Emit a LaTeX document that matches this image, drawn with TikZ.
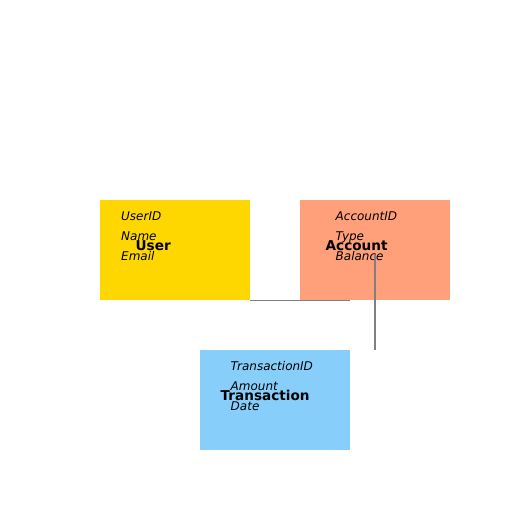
\documentclass[tikz,border=0pt]{standalone}
\usepackage{fontspec}
\setmainfont{DejaVu Sans}
\definecolor{usercol}{HTML}{FFD700}
\definecolor{acccol}{HTML}{FFA07A}
\definecolor{transcol}{HTML}{87CEFA}
\definecolor{linecol}{HTML}{808080}
\begin{document}
\begin{tikzpicture}[x=1pt,y=-1pt,
  entity/.style={draw=none,minimum width=150pt,minimum height=100pt,inner sep=0pt,anchor=north west},
  title/.style={anchor=base west,inner sep=0pt,font=\fontsize{13.6}{16}\selectfont\bfseries},
  attr/.style={anchor=base west,inner sep=0pt,font=\fontsize{12}{14}\selectfont\itshape},
  link/.style={draw=linecol,line width=1.5pt}]
\useasboundingbox (0,0) rectangle (512,512);
\node[entity,fill=usercol] (user) at (100,200) {};
\node[entity,fill=acccol] (account) at (300,200) {};
\node[entity,fill=transcol] (trans) at (200,350) {};
% User
\node[attr] (u1) at (121,220) {UserID};
\node[attr] (u2) at (121,240) {Name};
\node[attr] (u3) at (121,260) {Email};
\node[title] (ut) at (135.5,250) {User};
% Account
\node[attr] (a1) at (335.5,220) {AccountID};
\node[attr] (a2) at (335.5,240) {Type};
\node[attr] (a3) at (335.5,260) {Balance};
\node[title] (at) at (325.5,250) {Account};
% Transaction
\node[attr] (t1) at (230.5,370) {TransactionID};
\node[attr] (t2) at (230.5,390) {Amount};
\node[attr] (t3) at (230.5,410) {Date};
\node[title] (tt) at (220.5,400) {Transaction};
% connectors
\coordinate (hend) at (user.south east -| trans.north east);
\coordinate (vstart) at ([yshift=-5pt]account.center);
\coordinate (vend) at (account.center |- trans.north);
\draw[link] (user.south east) -- (hend);
\draw[link] (vstart) -- (vend);
\end{tikzpicture}
\end{document}
